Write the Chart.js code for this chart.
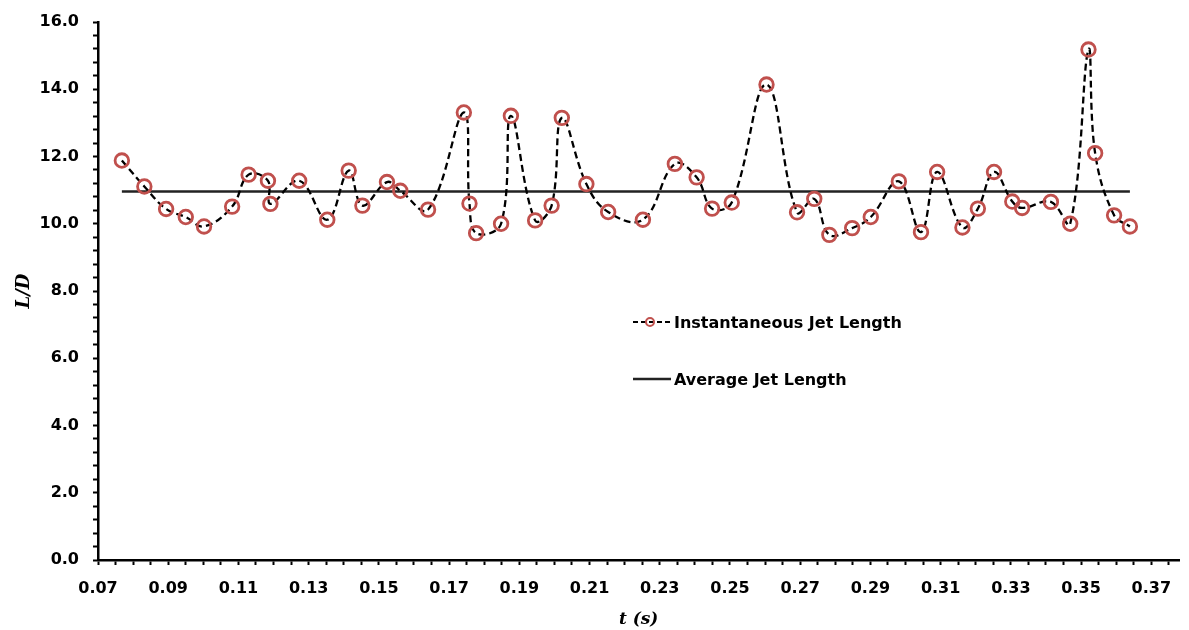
<!DOCTYPE html>
<html>
<head>
<meta charset="utf-8">
<script src="https://cdn.jsdelivr.net/npm/chart.js@4/dist/chart.umd.min.js"></script>
<style>
html,body{margin:0;padding:0;background:#fff;}
#wrap{position:relative;width:1189px;height:630px;}
#legend{position:absolute;left:633px;top:311px;font-family:"DejaVu Sans";font-weight:bold;font-size:16px;color:#000;}
.item{display:flex;align-items:center;height:22px;white-space:nowrap;}
.item svg{margin-right:3px;}
.item2{margin-top:35px;}
</style>
</head>
<body>
<div id="wrap">
<canvas id="c" width="1189" height="630"></canvas>
<div id="legend">
  <div class="item"><svg width="38" height="14"><line x1="0" y1="7" x2="38" y2="7" stroke="#000" stroke-width="2" stroke-dasharray="5,3"/><circle cx="17" cy="7" r="4" fill="none" stroke="#C0504D" stroke-width="2"/></svg><span>Instantaneous Jet Length</span></div>
  <div class="item item2"><svg width="38" height="14"><line x1="0" y1="7" x2="38" y2="7" stroke="#222" stroke-width="2.5"/></svg><span>Average Jet Length</span></div>
</div>
</div>
<script>
// ---- data ----
const tValues = [0.0768, 0.0832, 0.0894, 0.0950, 0.1002, 0.1082, 0.1129, 0.1184, 0.1191, 0.1273,
                 0.1353, 0.1414, 0.1453, 0.1523, 0.1561, 0.1640, 0.1742, 0.1758, 0.1777, 0.1848,
                 0.1876, 0.1945, 0.1992, 0.2021, 0.2091, 0.2153, 0.2252, 0.2343, 0.2405, 0.2449,
                 0.2505, 0.2604, 0.2691, 0.2740, 0.2783, 0.2848, 0.2901, 0.2981, 0.3044, 0.3090,
                 0.3162, 0.3206, 0.3252, 0.3304, 0.3332, 0.3414, 0.3469, 0.3521, 0.3540, 0.3594,
                 0.3639];
const ldValues = [11.88, 11.11, 10.44, 10.20, 9.92, 10.51, 11.46, 11.28, 10.59, 11.28,
                  10.12, 11.58, 10.54, 11.24, 10.98, 10.42, 13.31, 10.60, 9.72, 10.00,
                  13.21, 10.10, 10.54, 13.15, 11.18, 10.35, 10.12, 11.78, 11.38, 10.45,
                  10.63, 14.14, 10.34, 10.74, 9.67, 9.87, 10.20, 11.26, 9.75, 11.54,
                  9.89, 10.45, 11.54, 10.66, 10.47, 10.65, 10.00, 15.18, 12.10, 10.25,
                  9.92];
const avgLD = 10.96;
const xTickLabels = ['0.07','0.09','0.11','0.13','0.15','0.17','0.19','0.21','0.23','0.25','0.27','0.29','0.31','0.33','0.35','0.37'];
const yTickLabels = ['0.0','2.0','4.0','6.0','8.0','10.0','12.0','14.0','16.0'];

const instData = tValues.map((t, i) => ({x: t, y: ldValues[i]}));
const avgData = [{x: tValues[0], y: avgLD}, {x: tValues[tValues.length - 1], y: avgLD}];

function stepTicks(min, max, step) {
  const out = [];
  const n = Math.round((max - min) / step);
  for (let i = 0; i <= n; i++) out.push({value: +(min + i * step).toFixed(6)});
  return out;
}
const tickFont = {family: 'DejaVu Sans', weight: 'bold', size: 16};

new Chart(document.getElementById('c'), {
  type: 'scatter',
  data: {
    datasets: [
      {
        label: 'Instantaneous Jet Length',
        data: instData,
        showLine: true,
        borderColor: '#000',
        borderWidth: 2.3,
        borderDash: [7, 4],
        tension: 0.4,
        pointRadius: 6.8,
        pointBorderColor: '#C0504D',
        pointBorderWidth: 2.8,
        pointBackgroundColor: 'rgba(255,255,255,0)'
      },
      {
        label: 'Average Jet Length',
        data: avgData,
        showLine: true,
        borderColor: '#222',
        borderWidth: 2.6,
        pointRadius: 0
      }
    ]
  },
  options: {
    responsive: false,
    animation: false,
    layout: {padding: {top: 22, right: 1, left: 0, bottom: 0}},
    plugins: {legend: {display: false}, tooltip: {enabled: false}},
    scales: {
      x: {
        type: 'linear',
        min: 0.07,
        max: 0.378,
        afterBuildTicks: s => { s.ticks = stepTicks(0.07, 0.375, 0.005); },
        afterFit: s => { s.height = 70; s.paddingRight = 0; s.paddingLeft = 0; },
        grid: {drawOnChartArea: false, tickLength: 5, tickWidth: 2, tickColor: '#000'},
        border: {color: '#000', width: 2.5},
        ticks: {
          autoSkip: false, maxRotation: 0, padding: 14, color: '#000', font: tickFont,
          callback: v => {
            const k = Math.round((v - 0.07) / 0.02);
            return Math.abs(v - (0.07 + 0.02 * k)) < 1e-6 ? xTickLabels[k] : '';
          }
        },
        title: {display: true, text: 't (s)', color: '#000', padding: {top: 0, bottom: 0},
                font: {family: 'DejaVu Serif', style: 'italic', weight: 'bold', size: 17}}
      },
      y: {
        min: 0,
        max: 16,
        afterBuildTicks: s => { s.ticks = stepTicks(0, 16, 0.4); },
        afterFit: s => { s.width = 98; s.paddingTop = 0; s.paddingBottom = 0; },
        grid: {drawOnChartArea: false, tickLength: 5, tickWidth: 2, tickColor: '#000'},
        border: {color: '#000', width: 2.5},
        ticks: {
          autoSkip: false, padding: 14, color: '#000', font: tickFont,
          callback: v => {
            const k = Math.round(v / 2);
            return Math.abs(v - 2 * k) < 1e-6 ? yTickLabels[k] : '';
          }
        },
        title: {display: true, text: 'L/D', color: '#000', padding: {top: 14, bottom: 0},
                font: {family: 'DejaVu Serif', style: 'italic', weight: 'bold', size: 18}}
      }
    }
  }
});
</script>
</body>
</html>
